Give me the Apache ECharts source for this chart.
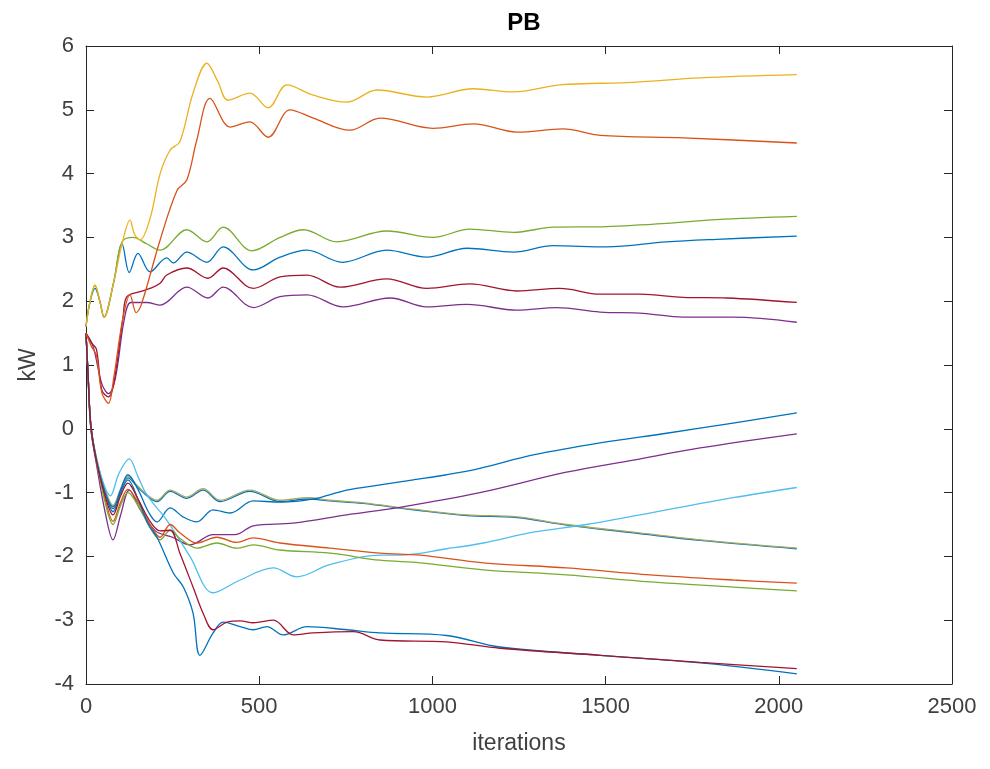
<!DOCTYPE html>
<html>
<head>
<meta charset="utf-8">
<script src="https://cdn.jsdelivr.net/npm/echarts@6/dist/echarts.min.js"></script>
<style>
html,body{margin:0;padding:0;background:#fff;}
#chart{width:990px;height:769px;}
</style>
</head>
<body>
<div id="chart"></div>
<script>
// ---- data: [iteration, kW] ----
const upperYellow = [[0,1.6],[10,1.95],[26,2.25],[40,2.0],[52,1.75],[80,2.3],[104,2.9],[127,3.27],[140,3.05],[156,2.96],[185,3.3],[214,4.0],[243,4.37],[271,4.5],[309,5.26],[349,5.73],[380,5.45],[410,5.15],[473,5.26],[526,5.03],[580,5.39],[656,5.23],[753,5.12],[840,5.31],[984,5.2],[1118,5.33],[1234,5.28],[1368,5.39],[1580,5.43],[1773,5.5],[2052,5.55]];
const upperOrange = [[0,1.5],[15,1.3],[30,1.15],[46,0.56],[65,0.4],[80,0.8],[107,1.75],[127,2.1],[145,1.82],[160,1.95],[214,2.96],[263,3.74],[291,3.9],[320,4.53],[358,5.18],[416,4.73],[473,4.81],[526,4.57],[589,5.0],[656,4.87],[762,4.68],[849,4.87],[1002,4.71],[1118,4.78],[1244,4.65],[1377,4.7],[1484,4.6],[1724,4.56],[2052,4.48]];
const upperGreen = [[0,1.6],[10,1.95],[26,2.25],[40,2.0],[52,1.75],[80,2.3],[104,2.93],[136,3.0],[175,2.9],[214,2.8],[291,3.12],[349,2.93],[396,3.16],[479,2.79],[560,3.0],[628,3.12],[724,2.93],[868,3.1],[1002,3.0],[1108,3.13],[1234,3.08],[1349,3.16],[1503,3.17],[1676,3.22],[1820,3.28],[2052,3.33]];
const upperBlue = [[0,1.6],[10,1.95],[26,2.2],[40,2.0],[52,1.75],[80,2.3],[104,2.9],[125,2.45],[150,2.75],[185,2.46],[233,2.68],[252,2.6],[291,2.77],[349,2.61],[396,2.85],[483,2.49],[560,2.69],[638,2.8],[740,2.61],[868,2.8],[984,2.69],[1100,2.83],[1234,2.77],[1349,2.87],[1503,2.85],[1676,2.93],[1820,2.97],[2052,3.02]];
const upperDarkRed = [[0,1.5],[15,1.35],[30,1.25],[46,0.6],[65,0.5],[80,0.7],[107,1.75],[118,2.07],[156,2.15],[185,2.2],[214,2.28],[233,2.41],[291,2.52],[352,2.36],[396,2.52],[483,2.2],[560,2.38],[638,2.41],[733,2.22],[868,2.35],[984,2.2],[1108,2.27],[1244,2.16],[1368,2.2],[1484,2.11],[1600,2.11],[1724,2.06],[1851,2.05],[2052,1.98]];
const upperPurple = [[0,1.5],[20,1.3],[46,0.7],[65,0.55],[85,0.8],[110,1.7],[130,1.98],[176,1.98],[214,1.94],[291,2.22],[352,2.05],[396,2.22],[483,1.9],[560,2.07],[638,2.1],[742,1.91],[878,2.05],[984,1.91],[1100,1.95],[1244,1.86],[1359,1.9],[1484,1.83],[1608,1.81],[1724,1.75],[1868,1.75],[2052,1.67]];

const lowerBlue = [[0,1.5],[6,0.8],[14,0],[30,-0.5],[55,-1.0],[78,-1.25],[100,-0.95],[121,-0.72],[150,-0.95],[180,-1.3],[205,-1.46],[243,-1.24],[280,-1.38],[320,-1.46],[367,-1.27],[416,-1.32],[483,-1.13],[560,-1.15],[656,-1.1],[753,-0.96],[849,-0.88],[945,-0.8],[1041,-0.72],[1137,-0.62],[1291,-0.41],[1484,-0.22],[1676,-0.07],[1868,0.09],[2052,0.25]];
const lowerPurple = [[0,1.5],[6,0.8],[14,0],[30,-0.55],[55,-1.3],[78,-1.74],[100,-1.35],[125,-0.96],[155,-1.25],[200,-1.6],[250,-1.7],[300,-1.82],[367,-1.66],[430,-1.66],[483,-1.52],[598,-1.48],[753,-1.35],[906,-1.23],[1137,-1.0],[1387,-0.68],[1580,-0.49],[1773,-0.3],[2052,-0.08]];
const lowerLightBlue = [[0,1.5],[6,0.85],[14,0.05],[30,-0.45],[50,-0.85],[70,-1.05],[95,-0.7],[125,-0.47],[150,-0.75],[176,-1.04],[233,-1.43],[300,-2.0],[367,-2.57],[445,-2.37],[541,-2.18],[608,-2.32],[704,-2.13],[849,-1.98],[906,-1.98],[1041,-1.88],[1147,-1.79],[1291,-1.62],[1445,-1.5],[1676,-1.27],[1868,-1.08],[2052,-0.92]];
const lowerYellow = [[0,1.5],[6,0.85],[14,0.05],[30,-0.45],[55,-0.95],[78,-1.2],[100,-0.95],[121,-0.75],[150,-0.9],[180,-1.05],[205,-1.12],[243,-0.96],[291,-1.07],[338,-0.94],[387,-1.12],[473,-0.96],[560,-1.12],[640,-1.08],[704,-1.12],[800,-1.16],[945,-1.26],[1100,-1.35],[1244,-1.38],[1387,-1.5],[1580,-1.62],[1773,-1.74],[2052,-1.87]];
const lowerTeal = [[0,1.5],[6,0.85],[14,0.05],[30,-0.47],[55,-0.97],[78,-1.22],[100,-0.97],[121,-0.77],[150,-0.92],[180,-1.07],[205,-1.14],[243,-0.98],[291,-1.09],[338,-0.96],[387,-1.14],[473,-0.98],[560,-1.14],[640,-1.1],[704,-1.13],[800,-1.17],[945,-1.27],[1100,-1.36],[1244,-1.39],[1387,-1.51],[1580,-1.63],[1773,-1.75],[2052,-1.88]];
const lowerOrange = [[0,1.5],[6,0.85],[14,0.05],[30,-0.5],[55,-1.1],[78,-1.45],[100,-1.15],[121,-0.95],[150,-1.15],[185,-1.5],[214,-1.7],[243,-1.5],[271,-1.63],[320,-1.79],[378,-1.7],[435,-1.78],[483,-1.71],[560,-1.79],[704,-1.87],[849,-1.95],[964,-1.98],[1147,-2.1],[1387,-2.18],[1628,-2.29],[1868,-2.37],[2052,-2.42]];
const lowerGreen = [[0,1.5],[6,0.85],[14,0.05],[30,-0.5],[55,-1.15],[78,-1.5],[100,-1.2],[121,-1.0],[150,-1.2],[185,-1.55],[214,-1.74],[243,-1.59],[271,-1.72],[320,-1.87],[378,-1.79],[435,-1.87],[483,-1.82],[560,-1.9],[704,-1.95],[849,-2.06],[964,-2.1],[1147,-2.21],[1387,-2.29],[1628,-2.4],[1868,-2.48],[2052,-2.54]];
const lowerDarkRed = [[0,1.5],[6,0.85],[14,0.05],[30,-0.5],[55,-1.05],[78,-1.35],[100,-1.05],[121,-0.85],[150,-1.1],[185,-1.45],[214,-1.6],[243,-1.59],[271,-1.95],[309,-2.48],[338,-2.89],[367,-3.15],[407,-3.03],[445,-3.01],[483,-3.04],[541,-3.0],[598,-3.23],[656,-3.2],[772,-3.18],[849,-3.31],[1041,-3.34],[1195,-3.44],[1484,-3.55],[1773,-3.66],[2052,-3.76]];
const lowerBlue2 = [[0,1.5],[6,0.85],[14,0.05],[30,-0.5],[55,-1.0],[78,-1.3],[100,-1.0],[121,-0.8],[150,-1.1],[180,-1.5],[205,-1.7],[252,-2.26],[281,-2.48],[309,-2.89],[329,-3.55],[367,-3.2],[396,-3.03],[445,-3.1],[483,-3.15],[522,-3.1],[569,-3.23],[638,-3.1],[753,-3.15],[849,-3.2],[1041,-3.24],[1195,-3.42],[1484,-3.55],[1773,-3.67],[2052,-3.84]];

const xTicks = [0, 500, 1000, 1500, 2000, 2500];
const yTicks = [-4, -3, -2, -1, 0, 1, 2, 3, 4, 5, 6];

const seriesList = [
  {d: lowerTeal, c: '#0072BD'},
  {d: lowerYellow, c: '#A8A860'},
  {d: lowerBlue, c: '#0072BD'},
  {d: lowerPurple, c: '#7E2F8E'},
  {d: lowerLightBlue, c: '#4DBEEE'},
  {d: lowerOrange, c: '#D95319'},
  {d: lowerGreen, c: '#77AC30'},
  {d: lowerBlue2, c: '#0072BD'},
  {d: lowerDarkRed, c: '#A2142F'},
  {d: upperBlue, c: '#0072BD'},
  {d: upperGreen, c: '#77AC30'},
  {d: upperPurple, c: '#7E2F8E'},
  {d: upperDarkRed, c: '#A2142F'},
  {d: upperOrange, c: '#D95319'},
  {d: upperYellow, c: '#EDB120'}
];

const chart = echarts.init(document.getElementById('chart'), null, {renderer: 'canvas'});
const axisColor = '#262626';
const labelColor = '#404040';
const FONT = 'Liberation Sans, Arial, Helvetica, sans-serif';

const option = {
  backgroundColor: '#ffffff',
  animation: false,
  title: {
    text: 'PB', left: 519, top: 6, textAlign: 'center',
    textStyle: {fontFamily: FONT, fontWeight: 'bold', fontSize: 24, color: '#000'}
  },
  grid: {left: 86, right: 38, top: 46, bottom: 85, containLabel: false},
  xAxis: [{
    type: 'value', min: 0, max: 2500, interval: 500, position: 'bottom',
    name: 'iterations', nameLocation: 'middle', nameGap: 48,
    nameTextStyle: {fontFamily: FONT, fontSize: 23, color: labelColor},
    axisLine: {show: true, onZero: false, lineStyle: {color: axisColor, width: 1}},
    axisTick: {show: true, inside: true, length: 8, lineStyle: {color: axisColor}},
    axisLabel: {fontFamily: FONT, fontSize: 22, color: labelColor, margin: 12,
      formatter: v => xTicks.includes(v) ? String(v) : ''},
    splitLine: {show: false}
  }, {
    type: 'value', min: 0, max: 2500, interval: 500, position: 'top',
    axisLine: {show: true, onZero: false, lineStyle: {color: axisColor, width: 1}},
    axisTick: {show: true, inside: true, length: 8, lineStyle: {color: axisColor}},
    axisLabel: {show: false}, splitLine: {show: false}
  }],
  yAxis: [{
    type: 'value', min: -4, max: 6, interval: 1, position: 'left',
    name: 'kW', nameLocation: 'middle', nameGap: 46, nameRotate: 90,
    nameTextStyle: {fontFamily: FONT, fontSize: 23, color: labelColor},
    axisLine: {show: true, onZero: false, lineStyle: {color: axisColor, width: 1}},
    axisTick: {show: true, inside: true, length: 8, lineStyle: {color: axisColor}},
    axisLabel: {fontFamily: FONT, fontSize: 22, color: labelColor, margin: 12,
      formatter: v => yTicks.includes(v) ? String(v) : ''},
    splitLine: {show: false}
  }, {
    type: 'value', min: -4, max: 6, interval: 1, position: 'right',
    axisLine: {show: true, onZero: false, lineStyle: {color: axisColor, width: 1}},
    axisTick: {show: true, inside: true, length: 8, lineStyle: {color: axisColor}},
    axisLabel: {show: false}, splitLine: {show: false}
  }],
  series: seriesList.map(s => ({
    type: 'line', data: s.d, xAxisIndex: 0, yAxisIndex: 0,
    showSymbol: false, smooth: 0.35,
    lineStyle: {color: s.c, width: 1.3},
    itemStyle: {color: s.c}
  }))
};
chart.setOption(option);
</script>
</body>
</html>
